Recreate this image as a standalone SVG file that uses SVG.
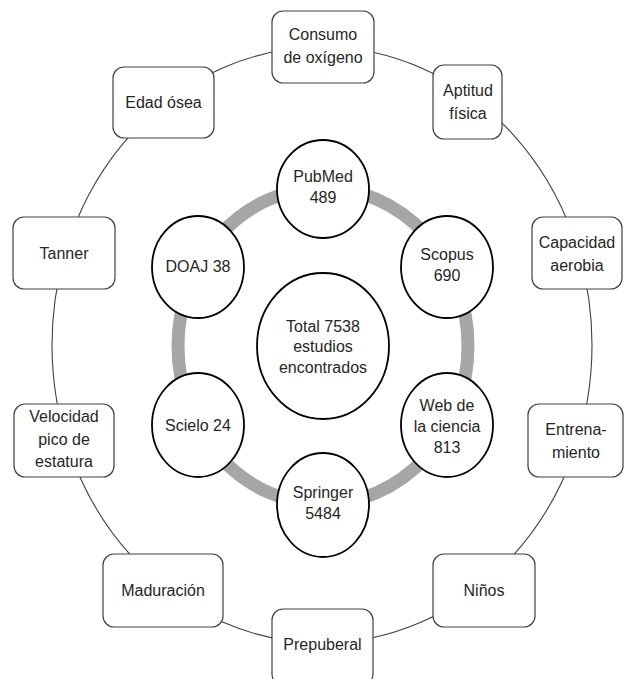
<svg xmlns="http://www.w3.org/2000/svg" width="624" height="679" viewBox="0 0 624 679">
<style>
text{font-family:"Liberation Sans",Arial,sans-serif;font-size:16px;fill:#262626;text-anchor:middle}
.box{fill:#fff;stroke:#404040;stroke-width:1.2}
.db{fill:#fff;stroke:#000;stroke-width:1.8}
</style>
<rect width="624" height="679" fill="#fff"/>
<g id="connectors">
<ellipse cx="322" cy="345" rx="270" ry="298" fill="none" stroke="#404040" stroke-width="1.1"/>
<ellipse cx="323" cy="346" rx="145" ry="158" fill="none" stroke="#a6a6a6" stroke-width="13"/>
</g>
<g id="consumo"><rect class="box" x="272" y="11" width="102" height="72" rx="11"/><text x="323" y="40">Consumo</text><text x="323" y="63">de oxígeno</text></g>
<g id="aptitud"><rect class="box" x="433" y="65" width="69" height="74" rx="11"/><text x="468" y="96">Aptitud</text><text x="468" y="119">física</text></g>
<g id="edad"><rect class="box" x="113" y="67" width="101" height="71" rx="11"/><text x="163.5" y="108">Edad ósea</text></g>
<g id="tanner"><rect class="box" x="13" y="217" width="102" height="72" rx="11"/><text x="64" y="259">Tanner</text></g>
<g id="capacidad"><rect class="box" x="532" y="217" width="90" height="72" rx="11"/><text x="577" y="248">Capacidad</text><text x="577" y="271">aerobia</text></g>
<g id="velocidad"><rect class="box" x="14" y="404" width="100" height="73" rx="11"/><text x="64" y="422">Velocidad</text><text x="64" y="445">pico de</text><text x="64" y="467">estatura</text></g>
<g id="entrenamiento"><rect class="box" x="528" y="404" width="95" height="73" rx="11"/><text x="576" y="435">Entrena-</text><text x="576" y="458">miento</text></g>
<g id="maduracion"><rect class="box" x="103" y="554" width="120" height="73" rx="11"/><text x="163" y="596">Maduración</text></g>
<g id="ninos"><rect class="box" x="433" y="554" width="102" height="73" rx="11"/><text x="484" y="596">Niños</text></g>
<g id="prepuberal"><rect class="box" x="272" y="609" width="101" height="76" rx="11"/><text x="322.5" y="650">Prepuberal</text></g>
<g id="pubmed"><ellipse class="db" cx="323" cy="189" rx="46" ry="49"/><text x="323" y="182">PubMed</text><text x="323" y="203">489</text></g>
<g id="scopus"><ellipse class="db" cx="447" cy="267" rx="46" ry="51"/><text x="447" y="260">Scopus</text><text x="447" y="281">690</text></g>
<g id="doaj"><ellipse class="db" cx="198" cy="267" rx="46" ry="51"/><text x="198" y="272">DOAJ 38</text></g>
<g id="total"><ellipse class="db" cx="323" cy="346" rx="66" ry="73"/><text x="323" y="332">Total 7538</text><text x="323" y="352">estudios</text><text x="323" y="373">encontrados</text></g>
<g id="scielo"><ellipse class="db" cx="198" cy="425" rx="46" ry="52"/><text x="198" y="431">Scielo 24</text></g>
<g id="web"><ellipse class="db" cx="447" cy="425" rx="46" ry="52"/><text x="447" y="411">Web de</text><text x="447" y="432">la ciencia</text><text x="447" y="453">813</text></g>
<g id="springer"><ellipse class="db" cx="323" cy="505" rx="46" ry="52"/><text x="323" y="498">Springer</text><text x="323" y="519">5484</text></g>
</svg>
